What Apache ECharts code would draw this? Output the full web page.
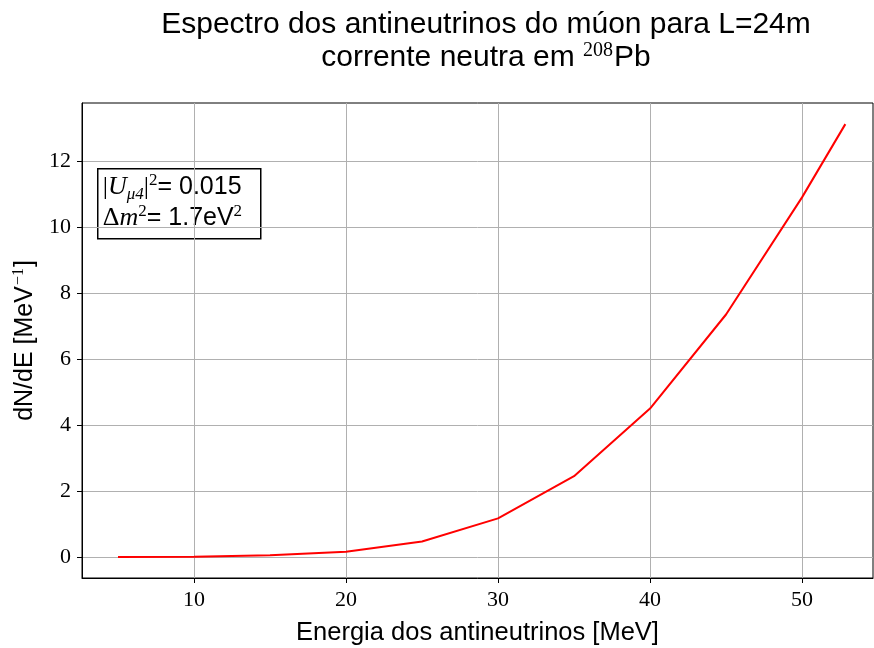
<!DOCTYPE html>
<html>
<head>
<meta charset="utf-8">
<script src="https://cdn.jsdelivr.net/npm/echarts@6/dist/echarts.min.js"></script>
<style>html,body{margin:0;padding:0;background:#fff}#c{width:874px;height:648px}</style>
</head>
<body>
<div id="c"></div>
<script>
var energy = [5, 10, 15, 20, 25, 30, 35, 40, 45, 50, 52.85];
var dNdE = [0.0, 0.01, 0.05, 0.16, 0.47, 1.17, 2.45, 4.5, 7.35, 10.9, 13.12];
var xTicks = [10, 20, 30, 40, 50];
var yTicks = [0, 2, 4, 6, 8, 10, 12];

var serif = '"Liberation Serif", "DejaVu Serif", serif';
var sans = '"Liberation Sans", Arial, sans-serif';

var chart = echarts.init(document.getElementById('c'), null, {renderer: 'canvas'});
var data = energy.map(function (e, i) { return [e, dNdE[i]]; });

chart.setOption({
  animation: false,
  backgroundColor: '#fff',
  title: {
    text: 'Espectro dos antineutrinos do múon para L=24m\n{n|corrente neutra em }{s|208}{n|Pb}',
    left: 481, textAlign: 'center', top: 3,
    textStyle: {
      fontFamily: sans, fontSize: 30, fontWeight: 'normal', color: '#000', lineHeight: 33,
      rich: {
        n: {fontFamily: sans, fontSize: 30, color: '#000', lineHeight: 33},
        s: {fontFamily: serif, fontSize: 20, color: '#000', verticalAlign: 'top', lineHeight: 33, padding: [0, 1, 8, 0]}
      }
    }
  },
  grid: {left: 82, right: 1, top: 103, bottom: 70, show: true, borderColor: '#000', borderWidth: 1, outerBoundsMode: 'none', containLabel: false},
  xAxis: {
    type: 'value', min: 2.63, max: 54.67,
    name: 'Energia dos antineutrinos [MeV]', nameLocation: 'middle', nameGap: 42,
    nameTextStyle: {fontFamily: sans, fontSize: 25.5, color: '#000'},
    axisLine: {show: true, onZero: false, lineStyle: {color: '#000', width: 1}},
    axisTick: {show: true, length: 5, lineStyle: {color: '#000'}, customValues: xTicks},
    axisLabel: {fontFamily: serif, fontSize: 22, color: '#000', margin: 11, customValues: xTicks},
    splitLine: {show: true, lineStyle: {color: '#b0b0b0', width: 1}}
  },
  yAxis: {
    type: 'value', min: -0.636, max: 13.76,
    name: '{n|dN/dE [MeV}{s|−1}{n|]}', nameLocation: 'middle', nameGap: 40, nameRotate: 90,
    nameTextStyle: {
      fontFamily: sans, fontSize: 25, color: '#000',
      rich: {
        n: {fontFamily: sans, fontSize: 25, color: '#000', lineHeight: 30},
        s: {fontFamily: serif, fontSize: 16, color: '#000', verticalAlign: 'top', lineHeight: 30, padding: [0, 1, 8, 1]}
      }
    },
    axisLine: {show: true, onZero: false, lineStyle: {color: '#000', width: 1}},
    axisTick: {show: true, length: 5, lineStyle: {color: '#000'}, customValues: yTicks},
    axisLabel: {fontFamily: serif, fontSize: 22, color: '#000', margin: 11, customValues: yTicks},
    splitLine: {show: true, lineStyle: {color: '#b0b0b0', width: 1}}
  },
  series: [{
    type: 'line', data: data, showSymbol: false, symbol: 'none',
    lineStyle: {color: '#ff0000', width: 2}, itemStyle: {color: '#ff0000'}
  }],
  graphic: [{
    type: 'group', left: 97, top: 168, z: 100,
    children: [{
      type: 'rect', shape: {x: 0, y: 0, width: 163, height: 70},
      style: {fill: '#fff', stroke: '#000', lineWidth: 1.5}
    }, {
      type: 'text', x: 5, y: 3,
      style: {
        text: '{r||}{i|U}{b|μ4}{r||}{p|2}{t|= 0.015}\n{r|Δ}{i|m}{p|2}{t|= 1.7eV}{p|2}',
        fill: '#000',
        rich: {
          r: {fontFamily: serif, fontSize: 26, lineHeight: 31, fill: '#000'},
          i: {fontFamily: serif, fontStyle: 'italic', fontSize: 26, lineHeight: 31, fill: '#000'},
          b: {fontFamily: serif, fontStyle: 'italic', fontSize: 17, lineHeight: 31, verticalAlign: 'bottom', padding: [6, 0, 0, 0], fill: '#000'},
          p: {fontFamily: serif, fontSize: 17, lineHeight: 31, verticalAlign: 'top', padding: [0, 0, 8, 0], fill: '#000'},
          t: {fontFamily: sans, fontSize: 25, lineHeight: 31, fill: '#000'}
        }
      }
    }]
  }]
});
</script>
</body>
</html>
